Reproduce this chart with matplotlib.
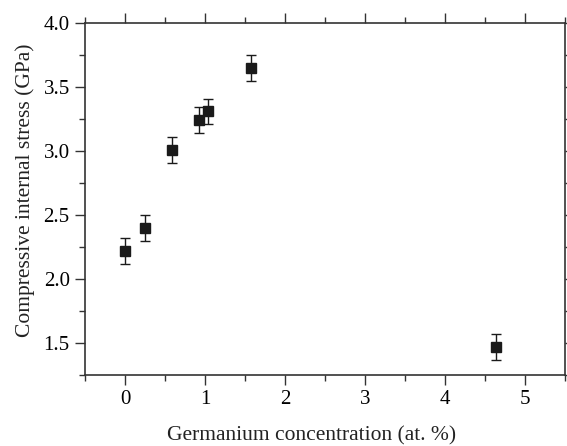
import matplotlib
matplotlib.use("Agg")
import matplotlib.pyplot as plt
from matplotlib.ticker import MultipleLocator

# germanium concentration (at. %) and compressive stress (GPa)
ge_conc = [0.0, 0.25, 0.59, 0.93, 1.04, 1.57, 4.64]
stress = [2.22, 2.40, 3.01, 3.24, 3.31, 3.65, 1.47]
stress_err = [0.1, 0.1, 0.1, 0.1, 0.1, 0.1, 0.1]

plt.rcParams['font.family'] = ['Liberation Serif', 'DejaVu Serif']

fig = plt.figure(figsize=(5.67, 4.46), dpi=100)
ax = fig.add_axes([85 / 567, 1 - 375 / 446, 480 / 567, 352 / 446])

ax.errorbar(ge_conc, stress, yerr=stress_err, fmt='s', color='#1a1a1a',
            markersize=7, capsize=3.5, elinewidth=1.0, capthick=1.0)

ax.set_xlim(-0.5, 5.5)
ax.set_ylim(1.25, 4.0)
ax.xaxis.set_major_locator(MultipleLocator(1))
ax.xaxis.set_minor_locator(MultipleLocator(0.5))
ax.yaxis.set_minor_locator(MultipleLocator(0.25))
ax.set_yticks([1.5, 2.0, 2.5, 3.0, 3.5, 4.0])

ax.tick_params(which='both', direction='out', top=True, right=True,
               labeltop=False, labelright=False, color='#333333', width=1.0)
ax.tick_params(which='major', length=7, labelsize=15, pad=4)
ax.tick_params(which='minor', length=4)
for s in ax.spines.values():
    s.set_linewidth(1.2)
    s.set_color('#333333')

ax.set_xlabel('Germanium concentration (at. %)', fontsize=15.5, color='#222222')
ax.set_ylabel('Compressive internal stress (GPa)', fontsize=15.5, color='#222222')
# labels sit a bit off-centre in the original
ax.xaxis.set_label_coords(0.471, -0.145)
ax.yaxis.set_label_coords(-0.105, 0.525)

fig.savefig('out.png', dpi=100)
